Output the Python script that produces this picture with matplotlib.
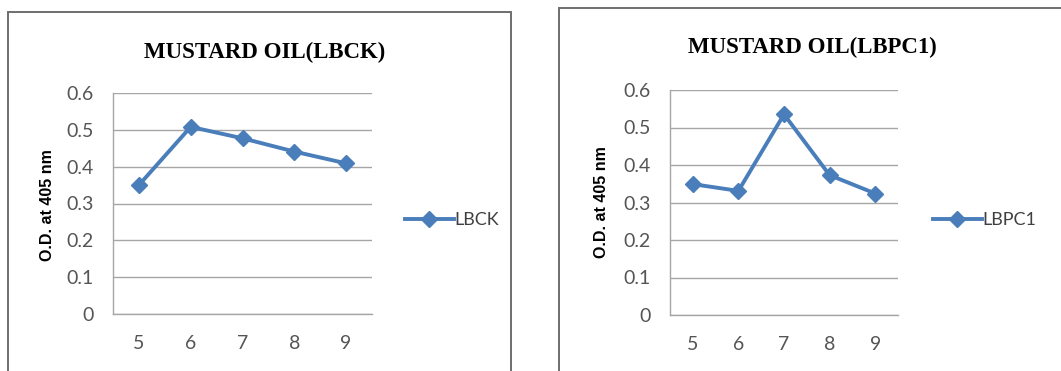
import matplotlib
matplotlib.use('Agg')
from matplotlib import pyplot as plt
from matplotlib.patches import Rectangle

# pH values on the x axis
ph = [5, 6, 7, 8, 9]

# O.D. at 405 nm for each strain
lbck = [0.350, 0.508, 0.477, 0.441, 0.409]
lbpc1 = [0.349, 0.331, 0.535, 0.373, 0.324]

titles = ['MUSTARD OIL(LBCK)', 'MUSTARD OIL(LBPC1)']
labels = ['LBCK', 'LBPC1']
y_ticks = [0, 0.1, 0.2, 0.3, 0.4, 0.5, 0.6]
y_tick_labels = ['0', '0.1', '0.2', '0.3', '0.4', '0.5', '0.6']

W, H = 1061, 371
LINE_BLUE = '#4A7EBB'
GRID_GREY = '#A6A6A6'


def px_box(left, top, right, bottom):
    # pixel box -> figure fraction rect
    return [left / W, (H - bottom) / H, (right - left) / W, (bottom - top) / H]


def draw_panel(fig, frame, box, values, title, title_xy, ylab_xy, label, leg_anchor):
    # outer chart frame
    fig.patches.append(Rectangle((frame[0] / W, (H - frame[3]) / H),
                                 (frame[2] - frame[0]) / W, (frame[3] - frame[1]) / H,
                                 transform=fig.transFigure, fill=False,
                                 edgecolor='#6E6E6E', linewidth=1.4))

    ax = fig.add_axes(px_box(*box))
    ax.plot(ph, values, color=LINE_BLUE, linewidth=2.8, marker='D',
            markersize=8, markerfacecolor=LINE_BLUE, markeredgecolor=LINE_BLUE,
            label=label, zorder=3)

    ax.set_xlim(4.5, 9.5)
    ax.set_ylim(0, 0.6)
    ax.set_xticks(ph)
    ax.set_xticklabels([str(p) for p in ph])
    ax.set_yticks(y_ticks)
    ax.set_yticklabels(y_tick_labels)
    ax.yaxis.grid(True, color=GRID_GREY, linewidth=1.0)
    ax.set_axisbelow(True)

    for side in ['top', 'right']:
        ax.spines[side].set_visible(False)
    for side in ['left', 'bottom']:
        ax.spines[side].set_color(GRID_GREY)
        ax.spines[side].set_linewidth(1.0)

    ax.tick_params(axis='both', length=0, labelsize=14, labelcolor='#555555')
    ax.tick_params(axis='x', pad=15)
    ax.tick_params(axis='y', pad=14)
    for t in ax.get_xticklabels() + ax.get_yticklabels():
        t.set_family('Lato')

    fig.text(title_xy[0] / W, 1 - title_xy[1] / H, title, ha='center', va='center',
             family='Liberation Serif', fontweight='bold', fontsize=16.5)
    fig.text(ylab_xy[0] / W, 1 - ylab_xy[1] / H, 'O.D. at 405 nm', ha='center',
             va='center', rotation=90, family='Liberation Sans', fontweight='bold',
             fontsize=11.5)

    leg = ax.legend(loc='center left', bbox_to_anchor=leg_anchor, frameon=False,
                    handlelength=2.7, handletextpad=0.05, borderpad=0, borderaxespad=0,
                    prop={'family': 'Lato', 'size': 13})
    for t in leg.get_texts():
        t.set_color('#404040')
    return ax


def main():
    fig = plt.figure(figsize=(W / 100, H / 100), dpi=100)
    fig.patch.set_facecolor('white')

    draw_panel(fig, (8, 12, 511, 380), (113, 93, 372, 314), lbck, titles[0],
               (265, 52), (47, 205), labels[0], (1.127, 0.425))
    draw_panel(fig, (559, 8, 1070, 380), (670, 90, 898, 315), lbpc1, titles[1],
               (812, 47), (602, 202), labels[1], (1.153, 0.422))

    fig.savefig('out.png', dpi=100, facecolor='white')


if __name__ == '__main__':
    main()
